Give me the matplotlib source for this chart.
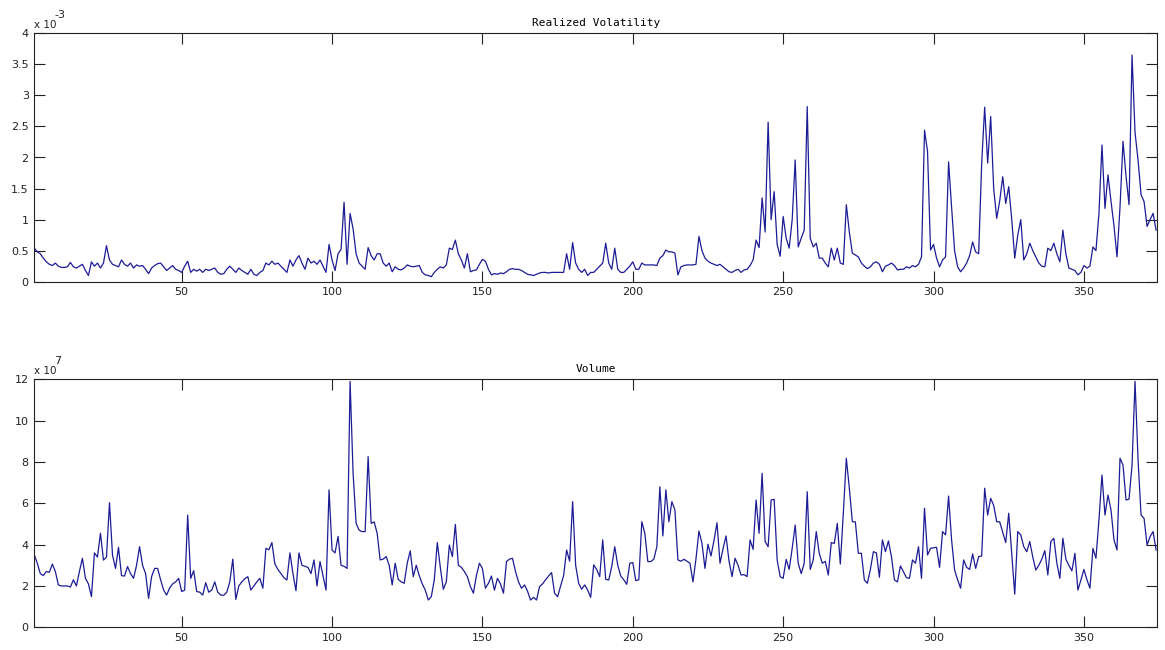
import numpy as np
import matplotlib.pyplot as plt

# realized volatility, units of 1e-3
rv = [0.54, 0.48, 0.45, 0.38, 0.32, 0.28, 0.26, 0.30, 0.25, 0.23,
      0.23, 0.24, 0.31, 0.24, 0.22, 0.25, 0.28, 0.18, 0.10, 0.32,
      0.25, 0.30, 0.22, 0.30, 0.58, 0.35, 0.28, 0.26, 0.24, 0.35,
      0.28, 0.25, 0.30, 0.22, 0.27, 0.25, 0.26, 0.20, 0.13, 0.22,
      0.26, 0.29, 0.30, 0.24, 0.18, 0.22, 0.26, 0.20, 0.18, 0.15,
      0.25, 0.33, 0.15, 0.20, 0.17, 0.20, 0.15, 0.20, 0.18, 0.20,
      0.22, 0.15, 0.12, 0.13, 0.20, 0.25, 0.20, 0.15, 0.22, 0.18,
      0.15, 0.12, 0.20, 0.12, 0.10, 0.15, 0.18, 0.30, 0.27, 0.33,
      0.28, 0.30, 0.25, 0.20, 0.15, 0.35, 0.25, 0.35, 0.42, 0.30,
      0.20, 0.38, 0.30, 0.33, 0.28, 0.35, 0.25, 0.15, 0.60, 0.35,
      0.18, 0.45, 0.52, 1.28, 0.28, 1.10, 0.85, 0.45, 0.30, 0.25,
      0.20, 0.55, 0.42, 0.35, 0.45, 0.45, 0.30, 0.25, 0.30, 0.16,
      0.24, 0.20, 0.19, 0.22, 0.27, 0.25, 0.24, 0.25, 0.26, 0.15,
      0.11, 0.10, 0.08, 0.15, 0.20, 0.24, 0.22, 0.27, 0.54, 0.52,
      0.67, 0.45, 0.35, 0.22, 0.45, 0.16, 0.18, 0.19, 0.28, 0.36,
      0.33, 0.20, 0.11, 0.13, 0.12, 0.14, 0.13, 0.16, 0.20, 0.21,
      0.20, 0.20, 0.18, 0.15, 0.12, 0.11, 0.10, 0.12, 0.14, 0.15,
      0.15, 0.14, 0.15, 0.15, 0.15, 0.15, 0.15, 0.45, 0.20, 0.63,
      0.30, 0.20, 0.15, 0.20, 0.10, 0.15, 0.15, 0.20, 0.25, 0.30,
      0.62, 0.30, 0.20, 0.54, 0.20, 0.15, 0.15, 0.20, 0.25, 0.32,
      0.20, 0.20, 0.30, 0.27, 0.27, 0.27, 0.27, 0.26, 0.38, 0.42,
      0.51, 0.48, 0.48, 0.46, 0.11, 0.24, 0.26, 0.27, 0.27, 0.27,
      0.28, 0.73, 0.50, 0.38, 0.33, 0.30, 0.28, 0.26, 0.28, 0.24,
      0.20, 0.16, 0.15, 0.18, 0.20, 0.15, 0.19, 0.20, 0.26, 0.35,
      0.67, 0.55, 1.35, 0.80, 2.57, 1.00, 1.45, 0.60, 0.41, 1.05,
      0.70, 0.54, 1.00, 1.96, 0.56, 0.70, 0.83, 2.82, 0.70, 0.56,
      0.62, 0.38, 0.38, 0.30, 0.24, 0.54, 0.35, 0.54, 0.30, 0.28,
      1.24, 0.80, 0.46, 0.43, 0.40, 0.30, 0.25, 0.21, 0.24, 0.30,
      0.32, 0.28, 0.16, 0.25, 0.27, 0.30, 0.26, 0.19, 0.20, 0.20,
      0.24, 0.22, 0.26, 0.24, 0.28, 0.40, 2.44, 2.10, 0.51, 0.60,
      0.38, 0.24, 0.35, 0.40, 1.93, 1.20, 0.50, 0.24, 0.16, 0.22,
      0.30, 0.42, 0.64, 0.48, 0.45, 1.90, 2.81, 1.91, 2.66, 1.50,
      1.02, 1.30, 1.69, 1.26, 1.53, 1.00, 0.38, 0.75, 1.00, 0.35,
      0.45, 0.62, 0.50, 0.40, 0.30, 0.25, 0.24, 0.54, 0.50, 0.62,
      0.45, 0.32, 0.83, 0.45, 0.22, 0.20, 0.18, 0.11, 0.15, 0.26,
      0.22, 0.25, 0.56, 0.50, 1.10, 2.20, 1.18, 1.72, 1.30, 0.90,
      0.40, 1.20, 2.26, 1.70, 1.24, 3.65, 2.40, 1.96, 1.40, 1.29,
      0.89, 1.00, 1.10, 0.83]

# volume, units of 1e7
vol = [3.50, 3.10, 2.60, 2.50, 2.70, 2.66, 3.06, 2.70, 2.05, 2.00,
       2.00, 2.00, 1.95, 2.30, 2.00, 2.70, 3.34, 2.37, 2.10, 1.48,
       3.60, 3.40, 4.55, 3.25, 3.40, 6.03, 3.50, 2.85, 3.87, 2.50,
       2.48, 2.94, 2.60, 2.37, 3.00, 3.90, 3.00, 2.60, 1.40, 2.45,
       2.85, 2.85, 2.30, 1.80, 1.56, 1.90, 2.10, 2.20, 2.37, 1.73,
       1.80, 5.43, 2.37, 2.74, 1.73, 1.70, 1.56, 2.16, 1.70, 1.80,
       2.20, 1.70, 1.56, 1.55, 1.70, 2.20, 3.30, 1.35, 2.00, 2.20,
       2.35, 2.45, 1.80, 2.00, 2.20, 2.37, 1.89, 3.82, 3.75, 4.10,
       3.06, 2.80, 2.60, 2.40, 2.29, 3.60, 2.60, 1.77, 3.60, 3.00,
       2.95, 2.90, 2.60, 3.26, 2.00, 3.18, 2.50, 1.80, 6.65, 3.74,
       3.60, 4.40, 3.00, 2.95, 2.85, 11.9, 7.45, 5.03, 4.70, 4.63,
       4.63, 8.26, 5.03, 5.10, 4.55, 3.26, 3.30, 3.42, 3.00, 2.05,
       3.10, 2.32, 2.20, 2.13, 3.10, 3.70, 2.45, 3.00, 2.50, 2.10,
       1.80, 1.32, 1.48, 2.30, 4.10, 2.90, 1.84, 2.20, 3.98, 3.42,
       4.98, 3.00, 2.90, 2.70, 2.45, 1.97, 1.65, 2.50, 3.10, 2.85,
       1.89, 2.13, 2.48, 1.80, 2.37, 2.10, 1.65, 3.18, 3.30, 3.34,
       2.70, 2.20, 1.89, 2.05, 1.75, 1.32, 1.45, 1.32, 1.97, 2.10,
       2.30, 2.48, 2.65, 1.65, 1.48, 2.00, 2.50, 3.74, 3.20, 6.08,
       3.00, 2.13, 1.84, 2.05, 1.80, 1.45, 3.02, 2.80, 2.45, 4.23,
       2.32, 2.29, 2.94, 3.90, 3.00, 2.48, 2.30, 2.08, 3.10, 3.13,
       2.26, 2.30, 5.11, 4.55, 3.18, 3.18, 3.30, 3.90, 6.80, 4.42,
       6.65, 5.11, 6.08, 5.68, 3.26, 3.20, 3.29, 3.20, 3.10, 2.20,
       3.30, 4.66, 4.06, 2.85, 4.02, 3.45, 4.20, 5.06, 3.10, 3.80,
       4.42, 3.20, 2.45, 3.34, 3.00, 2.53, 2.55, 2.45, 4.23, 3.77,
       6.16, 4.55, 7.45, 4.15, 3.90, 6.16, 6.19, 3.26, 2.45, 2.37,
       3.29, 2.80, 3.82, 4.95, 3.10, 2.60, 3.10, 6.56, 2.80, 3.26,
       4.63, 3.58, 3.10, 3.19, 2.53, 4.10, 4.06, 5.03, 3.06, 5.52,
       8.18, 6.73, 5.11, 5.10, 3.58, 3.58, 2.29, 2.13, 2.80, 3.66,
       3.60, 2.42, 4.23, 3.66, 4.18, 3.42, 2.29, 2.20, 2.97, 2.69,
       2.40, 2.37, 3.26, 3.10, 3.90, 2.37, 5.76, 3.50, 3.82, 3.85,
       3.87, 2.90, 4.63, 4.47, 6.35, 4.23, 2.77, 2.30, 1.89, 3.26,
       2.90, 2.80, 3.55, 2.85, 3.42, 3.45, 6.73, 5.43, 6.24, 5.90,
       5.11, 5.10, 4.60, 4.10, 5.52, 3.58, 1.60, 4.63, 4.47, 3.90,
       3.66, 4.15, 3.40, 2.77, 3.00, 3.30, 3.71, 2.53, 4.15, 4.31,
       3.10, 2.37, 4.31, 3.30, 3.00, 2.73, 3.58, 1.80, 2.29, 2.80,
       2.30, 1.89, 3.82, 3.34, 5.19, 7.37, 5.43, 6.40, 5.68, 4.23,
       3.74, 8.18, 7.85, 6.16, 6.20, 7.85, 11.9, 8.10, 5.43, 5.27,
       3.98, 4.39, 4.63, 3.74]

xticks = [50, 100, 150, 200, 250, 300, 350]
rv_yticks = [0, 0.5, 1, 1.5, 2, 2.5, 3, 3.5, 4]
vol_yticks = [0, 2, 4, 6, 8, 10, 12]

line_color = '#1c1c96'

fig = plt.figure(figsize=(11.65, 6.5), dpi=100)
fig.patch.set_facecolor('white')

W, H = 1165.0, 650.0
ax1 = fig.add_axes([34.3 / W, 1 - 281.7 / H, (1157 - 34.3) / W, (281.7 - 33.3) / H])
ax2 = fig.add_axes([34.3 / W, 1 - 627.3 / H, (1157 - 34.3) / W, (627.3 - 379.3) / H])


def style(ax, yticks, title, expo):
    ax.set_xlim(1, 374.3)
    ax.set_xticks(xticks)
    ax.set_yticks(yticks)
    ax.set_yticklabels(['%g' % t for t in yticks])
    ax.set_ylim(yticks[0], yticks[-1])
    ax.tick_params(direction='in', length=8, width=0.8, top=True, right=True,
                   labelsize=8, colors='#222222', pad=4)
    for s in ax.spines.values():
        s.set_linewidth(0.8)
        s.set_color('#222222')
    ax.set_title(title, fontsize=8, family='DejaVu Sans Mono', pad=5)
    ax.text(0.0, 1.012, 'x 10', transform=ax.transAxes, fontsize=7.5,
            ha='left', va='bottom', color='#222222')
    ax.text(0.018, 1.055, expo, transform=ax.transAxes, fontsize=8,
            ha='left', va='bottom', color='#222222')


ax1.plot(np.arange(1, len(rv) + 1), rv, color=line_color, linewidth=0.9)
style(ax1, rv_yticks, 'Realized Volatility', '-3')

ax2.plot(np.arange(1, len(vol) + 1), vol, color=line_color, linewidth=0.9)
style(ax2, vol_yticks, 'Volume', '7')

fig.savefig('out.png', dpi=100, facecolor='white')
